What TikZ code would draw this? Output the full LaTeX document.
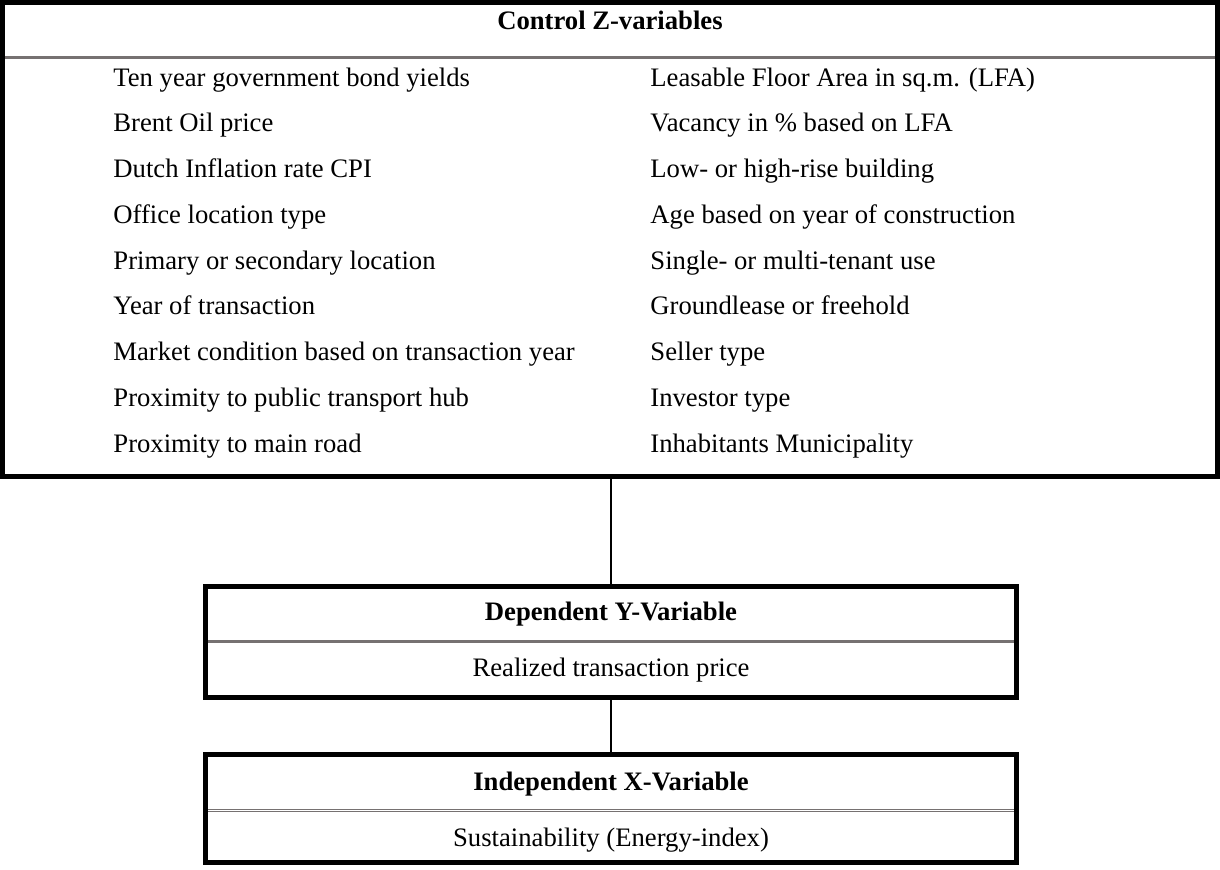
\documentclass[tikz,border=0pt]{standalone}
\usepackage{fontspec}
\setmainfont{Liberation Serif}
\usepackage{tikz}
\definecolor{sepgray}{RGB}{118,113,113}

\tikzset{
    box/.style = {draw, line width = 2.25pt, inner sep = 0pt, outer sep = 0pt},
    sepline/.style = {sepgray, line width = 1.35pt},
    txt/.style = {font = \fontsize{12}{14}\selectfont, inner sep = 0pt},
}

\begin{document}
\begin{tikzpicture}[x = 0.45pt, y = -0.45pt]
        \useasboundingbox (0,0) rectangle (1220,870);
        % boxes
        \node [box, minimum width = 546.75pt, minimum height = 213.5pt] (ctrl) at (610, 239.75) {};
        \node [box, minimum width = 365pt, minimum height = 50pt] (dep) at (611, 642) {};
        \node [box, minimum width = 365pt, minimum height = 48.6pt] (indep) at (611, 808.5) {};
        % separators
        \draw [sepline] (5, 58) -- (1215, 58);
        \draw [sepline] (208, 642) -- (1014, 642);
        \draw [sepgray, line width = 0.6pt, double, double distance = 0.5pt] (208, 810.5) -- (1014, 810.5);
        % connectors
        \draw [line width = 0.6pt] (dep.north) -- (dep.north |- ctrl.south);
        \draw [line width = 0.6pt] (indep.north) -- (dep.south);
        % headings
        \node [txt, anchor = base, font = \fontsize{12}{14}\selectfont\bfseries] (ctrltitle) at (610, 30) {Control Z-variables};
        \node [txt, anchor = base, font = \fontsize{12}{14}\selectfont\bfseries] (deptitle) at (611, 621) {Dependent Y-Variable};
        \node [txt, anchor = base] (deptext) at (611, 677) {Realized transaction price};
        \node [txt, anchor = base, font = \fontsize{12}{14}\selectfont\bfseries] (indeptitle) at (611, 791) {Independent X-Variable};
        \node [txt, anchor = base] (indeptext) at (611, 847) {Sustainability (Energy-index)};
        % control variables
        \foreach \v [count = \i] in {Ten year government bond yields, Brent Oil price,
            Dutch Inflation rate CPI, Office location type, Primary or secondary location,
            Year of transaction, Market condition based on transaction year,
            Proximity to public transport hub, Proximity to main road}
            \node [txt, anchor = base west] (left\i) at (113, 86.25 + 45.75*\i - 45.75) {\v};
        \foreach \v [count = \i] in {Leasable Floor Area in sq.m. (LFA), Vacancy in \% based on LFA,
            Low- or high-rise building, Age based on year of construction,
            Single- or multi-tenant use, Groundlease or freehold, Seller type,
            Investor type, Inhabitants Municipality}
            \node [txt, anchor = base west] (right\i) at (650, 86.25 + 45.75*\i - 45.75) {\v};
    \end{tikzpicture}
\end{document}
